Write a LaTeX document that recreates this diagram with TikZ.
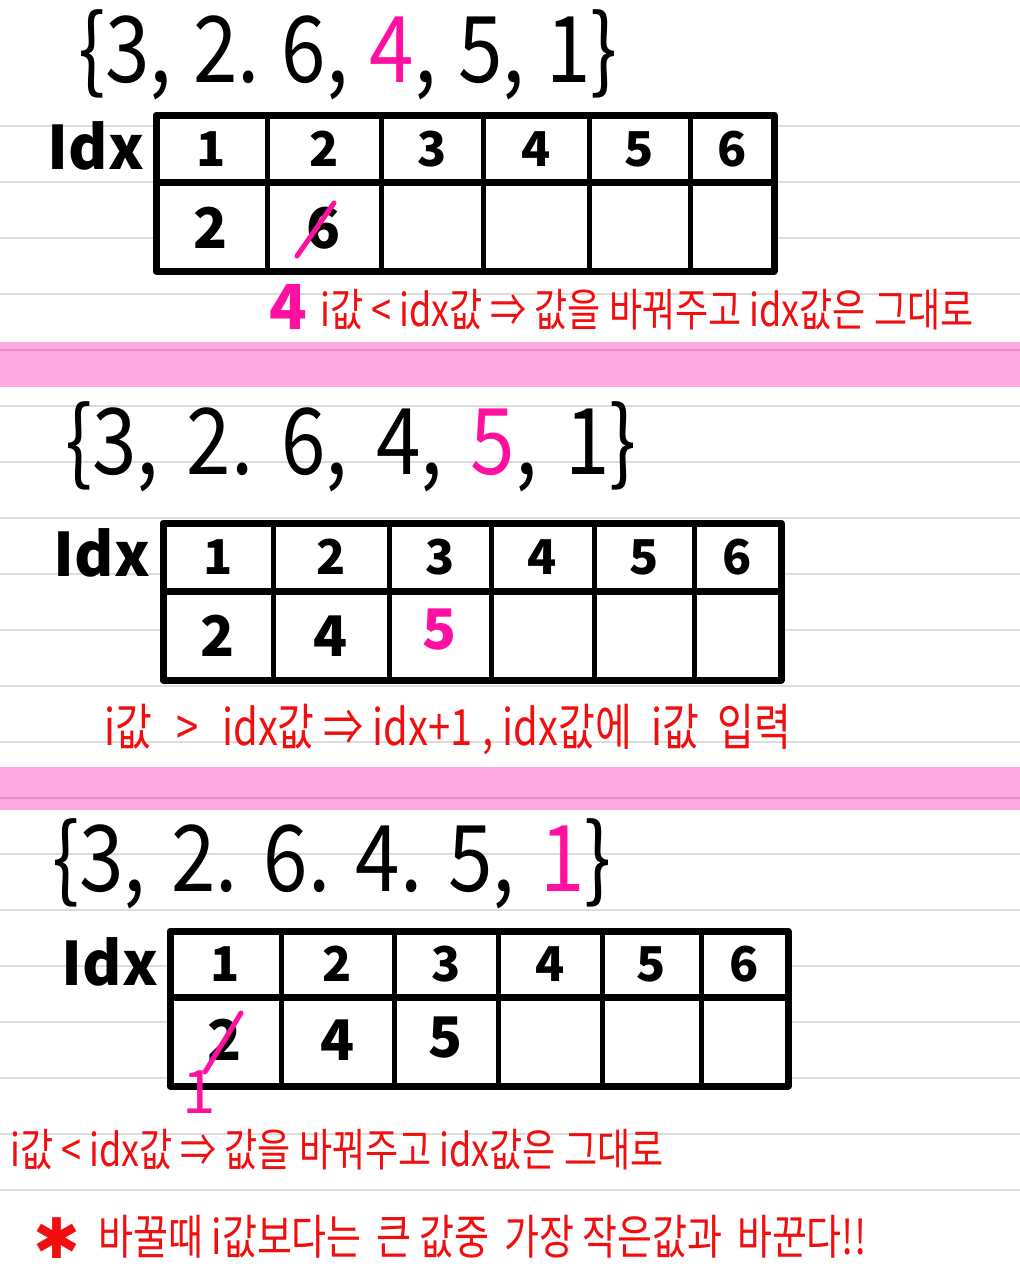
\documentclass[tikz,border=0pt]{standalone}
\usepackage{fontspec}
\setmainfont{Noto Sans CJK KR}
\newfontfamily\symfont{DejaVu Sans}
\usetikzlibrary{positioning}
\definecolor{hotpink}{RGB}{255,16,160}
\definecolor{inkred}{RGB}{240,14,14}
\definecolor{bandpink}{RGB}{252,170,224}
\definecolor{bandline}{RGB}{232,140,200}
\definecolor{ruleline}{RGB}{220,220,220}
\newcommand{\tall}[1]{\scalebox{1}[1.25]{#1}}
\newcommand{\settall}[1]{\scalebox{1}[1.15]{#1}}
\newcommand{\hl}[1]{{\color{hotpink}#1}}
\tikzset{
grid/.style={line width=7pt, line join=round, fill=white},
colline/.style={line width=5pt},
setrow/.style={anchor=west, inner sep=0pt, font=\fontsize{80}{80}\selectfont},
idxlabel/.style={inner sep=0pt, font=\bfseries\fontsize{60}{60}\selectfont},
head/.style={inner sep=0pt, font=\bfseries\fontsize{48}{48}\selectfont},
cell/.style={inner sep=0pt, font=\bfseries\fontsize{56}{56}\selectfont},
note/.style={anchor=west, inner sep=0pt, text=inkred, font=\fontsize{36}{36}\selectfont},
strike/.style={hotpink, line width=5pt, line cap=round},
}

\begin{document}
\begin{tikzpicture}[x=1pt, y=-1pt]
    \useasboundingbox (0,0) rectangle (1020,1280);
    \fill[white] (0,0) rectangle (1020,1280);

    % ruled paper
    \foreach \k in {0,...,19}
        \draw[ruleline, line width=2pt] (0,{125.7+56*\k}) -- (1020,{125.7+56*\k});
    \fill[bandpink] (0,342) rectangle (1020,387);
    \draw[bandline, line width=2pt] (0,349.7) -- (1020,349.7);
    \fill[bandpink] (0,767) rectangle (1020,810);
    \draw[bandline, line width=2pt] (0,797.7) -- (1020,797.7);

    % step 1
    \node[setrow] (set1) at (78,55) {\settall{\{3,\hspace{.27em}2.\hspace{.27em}6,\hspace{.27em}\hl{4},\hspace{.27em}5,\hspace{.27em}1\}}};
    \node[idxlabel] (idx1) at (96,146) {Idx};
    \draw[grid] (156,115) rectangle (774,271);
    \draw[grid] (156,182) -- (774,182);
    \foreach \x in {267,381,483,589,690}
        \draw[colline] (\x,115) -- (\x,271);
    \foreach \n/\a/\b in {1/156/267,2/267/381,3/381/483,4/483/589,5/589/690,6/690/774}
        \node[head] (a\n) at ({(\a+\b)/2},149) {\n};
    \node[cell] (av1) at (211,228) {2};
    \node[cell] (av2) at (324,228) {6};
    \draw[strike] (297,256) -- (334,203);
    \node[cell, text=hotpink, font=\bfseries\fontsize{62}{62}\selectfont] (new1) at (288,307) {4};
    \node[note] (rule1) at (320,310) {\tall{i값 < idx값 ⇒ 값을 바꿔주고 idx값은 그대로}};

    % step 2
    \node[setrow] (set2) at (65,447) {\settall{\{3,\hspace{.35em}2.\hspace{.35em}6,\hspace{.35em}4,\hspace{.35em}\hl{5},\hspace{.35em}1\}}};
    \node[idxlabel] (idx2) at (102,553) {Idx};
    \draw[grid] (163,523) rectangle (781,680);
    \draw[grid] (163,591) -- (781,591);
    \foreach \x in {273,389,491,594,694}
        \draw[colline] (\x,523) -- (\x,680);
    \foreach \n/\a/\b in {1/163/273,2/273/389,3/389/491,4/491/594,5/594/694,6/694/781}
        \node[head] (b\n) at ({(\a+\b)/2},557) {\n};
    \node[cell] (bv1) at (218,636) {2};
    \node[cell] (bv2) at (331,636) {4};
    \node[cell, text=hotpink] (bv3) at (440,630) {5};
    \node[note, font=\fontsize{40}{40}\selectfont] (rule2) at (104,730) {\tall{i값\hspace{24pt}>\hspace{24pt}idx값 ⇒ idx+1\hspace{10pt}, idx값에\hspace{10pt} i값\hspace{10pt} 입력}};

    % step 3
    \node[setrow] (set3) at (52,864) {\settall{\{3,\hspace{.32em}2.\hspace{.32em}6.\hspace{.32em}4.\hspace{.32em}5,\hspace{.32em}\hl{1}\}}};
    \node[idxlabel] (idx3) at (110,962) {Idx};
    \draw[grid] (170,931) rectangle (788,1086);
    \draw[grid] (170,997) -- (788,997);
    \foreach \x in {281,394,498,602,701}
        \draw[colline] (\x,931) -- (\x,1086);
    \foreach \n/\a/\b in {1/170/281,2/281/394,3/394/498,4/498/602,5/602/701,6/701/788}
        \node[head] (c\n) at ({(\a+\b)/2},964) {\n};
    \node[cell] (cv1) at (225,1040) {2};
    \node[cell] (cv2) at (338,1040) {4};
    \node[cell] (cv3) at (446,1038) {5};
    \draw[strike] (205,1072) -- (241,1013);
    \node[cell, text=hotpink, font=\fontsize{60}{60}\selectfont] (new3) at (199,1092) {1};
    \node[note] (rule3) at (10,1150) {\tall{i값 < idx값 ⇒ 값을 바꿔주고 idx값은 그대로}};

    % tip
    \node[inner sep=0pt, text=inkred, font=\symfont\bfseries\fontsize{56}{56}\selectfont] (star) at (57,1238) {✱};
    \node[note, font=\fontsize{38}{38}\selectfont] (tip) at (98,1237) {\tall{바꿀때 i값보다는\hspace{6pt} 큰 값중\hspace{6pt} 가장 작은값과\hspace{6pt} 바꾼다!!}};
\end{tikzpicture}
\end{document}
